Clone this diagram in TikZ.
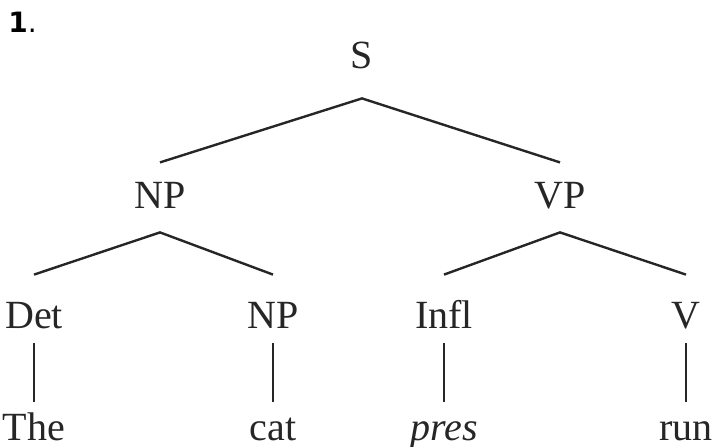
\documentclass[tikz,border=0pt]{standalone}
\usepackage{fontspec}
\setmainfont{Liberation Serif}
\newfontfamily\numfont{DejaVu Sans}

\begin{document}
\begin{tikzpicture}
[
	x=0.5pt, y=-0.5pt,
	lbl/.style={inner sep=0pt, anchor=base, text=black!85, font=\fontsize{20}{20}\selectfont},
	root/.style={lbl, text depth=15pt},
	phrase/.style={lbl, text height=22.6pt, text depth=12pt},
	head/.style={lbl, text height=26.5pt, text depth=7.5pt},
	word/.style={lbl, text height=19pt, text depth=0pt},
	branch/.style={line width=1.2pt, black!85}
  ]
	\useasboundingbox (0,0) rectangle (712,446);
	\node[anchor=base west, inner sep=0pt, font=\numfont\fontsize{14}{14}\selectfont] (Num) at (8,32) {\textbf{1}.};

	\node[root] (S) at (362,68) {S};

	\node[phrase] (NP) at (160,208) {NP};
	\node[phrase] (VP) at (560,208) {VP};

	\node[head] (Det) at (34,328) {Det};
	\node[head] (N) at (273,328) {NP};
	\node[head] (Infl) at (444,328) {Infl};
	\node[head] (V) at (686,328) {V};

	\node[word] (The) at (34,440) {The};
	\node[word] (Cat) at (273,440) {cat};
	\node[word] (Pres) at (444,440) {\itshape pres};
	\node[word] (Run) at (686,440) {run};

	\draw[branch] (NP.north) -- (S.south) -- (VP.north);
	\draw[branch] (Det.north) -- (NP.south) -- (N.north);
	\draw[branch] (Infl.north) -- (VP.south) -- (V.north);

	\draw[branch] (Det) -- (The);
	\draw[branch] (N) -- (Cat);
	\draw[branch] (Infl) -- (Pres);
	\draw[branch] (V) -- (Run);
\end{tikzpicture}
\end{document}
